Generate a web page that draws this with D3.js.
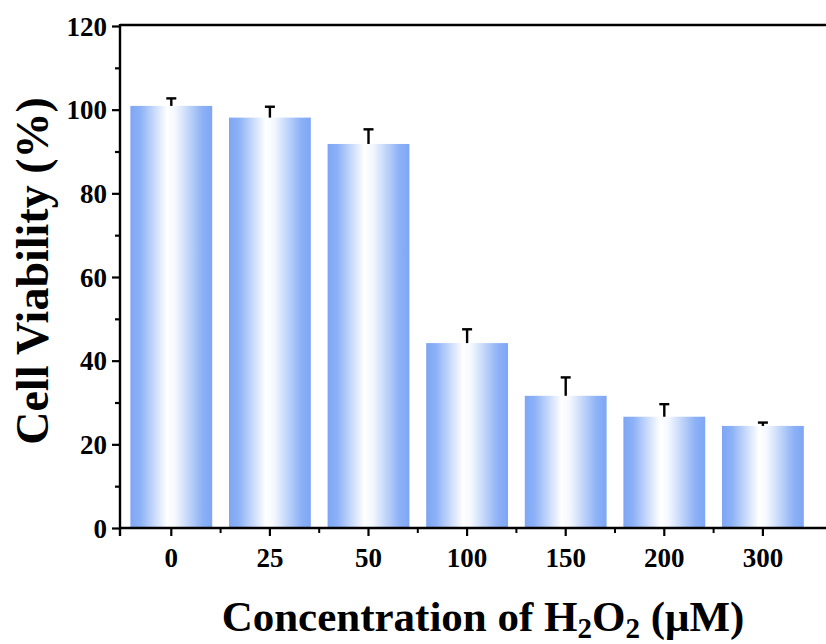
<!DOCTYPE html>
<html>
<head>
<meta charset="utf-8">
<script src="https://cdn.jsdelivr.net/npm/d3@7"></script>
<style>
  body { margin: 0; background: #fff; }
  text { font-family: "Liberation Serif", "Times New Roman", serif; font-weight: bold; }
</style>
</head>
<body>
<div class="chart"></div>
<script>
// data
var concentrations = ['0', '25', '50', '100', '150', '200', '300'];
var viability = [100.9, 98.1, 91.8, 44.2, 31.6, 26.6, 24.4];
var errors = [1.8, 2.6, 3.5, 3.3, 4.4, 3.0, 0.8];
var yTicks = [0, 20, 40, 60, 80, 100, 120];

var svgWidth = 826;
var svgHeight = 644;

// plot box (right side runs past the window edge)
var plot = { left: 120, top: 26, bottom: 528, right: 840 };

var svg = d3.select('.chart')
  .append('svg')
  .attr('width', svgWidth)
  .attr('height', svgHeight);

var defs = svg.append('defs');
var grad = defs.append('linearGradient')
  .attr('id', 'barGrad')
  .attr('x1', '0%').attr('x2', '100%')
  .attr('y1', '0%').attr('y2', '0%');
grad.append('stop').attr('offset', '0%').attr('stop-color', '#7ea6f5');
grad.append('stop').attr('offset', '12%').attr('stop-color', '#8cb1f6');
grad.append('stop').attr('offset', '45%').attr('stop-color', '#ffffff');
grad.append('stop').attr('offset', '55%').attr('stop-color', '#f4f8fe');
grad.append('stop').attr('offset', '88%').attr('stop-color', '#8cb1f6');
grad.append('stop').attr('offset', '100%').attr('stop-color', '#7ea6f5');

// scales
var x = d3.scaleBand()
  .domain(concentrations)
  .range([122, 122 + 7 * 98.6])
  .paddingInner(0.17)
  .paddingOuter(0.085);

var y = d3.scaleLinear().domain([0, 120]).range([plot.bottom, plot.top]);

var chart = svg.append('g');

// bars
chart.selectAll('rect.bar')
  .data(concentrations)
  .enter()
  .append('rect')
  .attr('class', 'bar')
  .attr('x', function(d) { return x(d); })
  .attr('width', x.bandwidth())
  .attr('y', function(d, i) { return y(viability[i]); })
  .attr('height', function(d, i) { return plot.bottom - y(viability[i]); })
  .attr('fill', 'url(#barGrad)');

// error bars (upper only)
var err = chart.selectAll('g.err')
  .data(concentrations)
  .enter()
  .append('g')
  .attr('class', 'err');

err.append('line')
  .attr('x1', function(d) { return x(d) + x.bandwidth() / 2; })
  .attr('x2', function(d) { return x(d) + x.bandwidth() / 2; })
  .attr('y1', function(d, i) { return y(viability[i]); })
  .attr('y2', function(d, i) { return y(viability[i] + errors[i]); })
  .attr('stroke', '#000')
  .attr('stroke-width', 2.4);

err.append('line')
  .attr('x1', function(d) { return x(d) + x.bandwidth() / 2 - 5; })
  .attr('x2', function(d) { return x(d) + x.bandwidth() / 2 + 5; })
  .attr('y1', function(d, i) { return y(viability[i] + errors[i]); })
  .attr('y2', function(d, i) { return y(viability[i] + errors[i]); })
  .attr('stroke', '#000')
  .attr('stroke-width', 2.4);

// y axis, minor ticks
chart.append('g')
  .attr('transform', 'translate(' + plot.left + ',0)')
  .call(d3.axisLeft(y).tickValues(d3.range(10, 120, 20)).tickSize(5).tickFormat(''))
  .call(function(g) { g.select('.domain').remove(); });

// y axis, major ticks
var yAxis = chart.append('g')
  .attr('transform', 'translate(' + plot.left + ',0)')
  .call(d3.axisLeft(y).tickValues(yTicks).tickSize(8).tickSizeOuter(0).tickPadding(5));
yAxis.select('.domain').remove();
yAxis.selectAll('text').style('font-size', '27px').attr('fill', '#000').attr('dy', '0.34em');

// x axis, minor ticks at band boundaries
var bounds = concentrations.slice(0, -1).map(function(d) {
  return x(d) + x.step() - (x.step() - x.bandwidth()) / 2;
});
chart.selectAll('line.minor')
  .data(bounds)
  .enter()
  .append('line')
  .attr('class', 'minor')
  .attr('x1', function(d) { return d; })
  .attr('x2', function(d) { return d; })
  .attr('y1', plot.bottom)
  .attr('y2', plot.bottom + 5)
  .attr('stroke', '#000')
  .attr('stroke-width', 2);

// x axis, major ticks
var xAxis = chart.append('g')
  .attr('transform', 'translate(0,' + plot.bottom + ')')
  .call(d3.axisBottom(x).tickSize(8).tickSizeOuter(0).tickPadding(12));
xAxis.select('.domain').remove();
xAxis.selectAll('text').style('font-size', '27px').attr('fill', '#000');

chart.selectAll('.tick line').attr('stroke-width', 2.2);

// box lines
chart.append('line')
  .attr('x1', plot.left).attr('x2', plot.right)
  .attr('y1', plot.bottom).attr('y2', plot.bottom)
  .attr('stroke', '#000').attr('stroke-width', 2.4);
chart.append('line')
  .attr('x1', plot.left).attr('x2', plot.right)
  .attr('y1', plot.top - 1).attr('y2', plot.top - 1)
  .attr('stroke', '#000').attr('stroke-width', 2.4);
chart.append('line')
  .attr('x1', plot.left).attr('x2', plot.left)
  .attr('y1', plot.top - 2).attr('y2', plot.bottom + 8)
  .attr('stroke', '#000').attr('stroke-width', 2.4);

// y title
svg.append('text')
  .attr('transform', 'translate(48,271) rotate(-90)')
  .attr('text-anchor', 'middle')
  .style('font-size', '46px')
  .text('Cell Viability (%)');

// x title
var xt = svg.append('text')
  .attr('x', 483)
  .attr('y', 631)
  .attr('text-anchor', 'middle')
  .style('font-size', '43px');
xt.append('tspan').text('Concentration of H');
xt.append('tspan').attr('dy', 7).style('font-size', '29px').text('2');
xt.append('tspan').attr('dy', -7).text('O');
xt.append('tspan').attr('dy', 7).style('font-size', '29px').text('2');
xt.append('tspan').attr('dy', -7).text(' (\u03bcM)');
</script>
</body>
</html>
